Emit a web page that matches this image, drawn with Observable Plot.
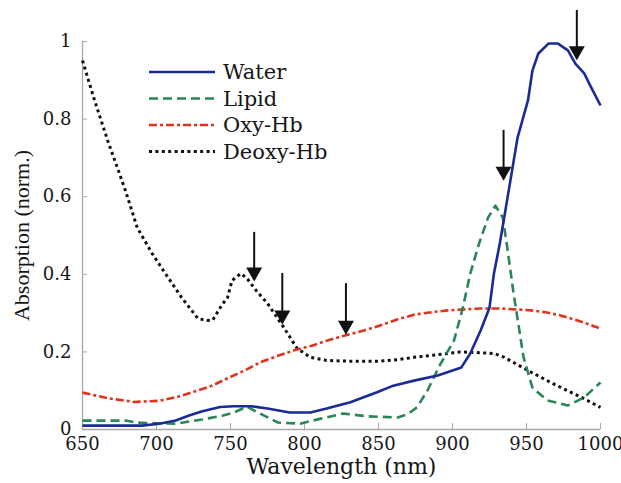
<!DOCTYPE html>
<html>
<head>
<meta charset="utf-8">
<script src="https://cdn.jsdelivr.net/npm/d3@7"></script>
<script src="https://cdn.jsdelivr.net/npm/@observablehq/plot@0.6"></script>
<style>
  html, body { margin: 0; padding: 0; background: #fff; }
  #chart { position: relative; width: 621px; height: 483px; overflow: hidden; }
  #legend { position: absolute; left: 0; top: 0; pointer-events: none; }
</style>
</head>
<body>
<div id="chart"></div>
<script>
// Absorption spectra (normalised) of the main tissue chromophores
const waterNm  = [650, 670, 690, 702, 713, 722, 731, 743, 752, 764, 775, 790, 804, 815, 831, 849, 860, 874, 890, 906, 912, 919, 925, 928, 932, 938, 944, 951, 954, 958, 965, 971, 978, 983, 989, 993, 1000];
const waterAbs = [0.01, 0.01, 0.01, 0.015, 0.023, 0.036, 0.047, 0.058, 0.06, 0.06, 0.054, 0.044, 0.044, 0.054, 0.07, 0.096, 0.113, 0.126, 0.139, 0.16, 0.196, 0.255, 0.314, 0.402, 0.48, 0.616, 0.753, 0.848, 0.925, 0.969, 0.995, 0.995, 0.977, 0.943, 0.918, 0.887, 0.835];

const lipidNm  = [650, 679, 686, 700, 713, 731, 745, 753, 761, 770, 782, 797, 811, 826, 843, 863, 870, 876, 883, 892, 901, 907, 912, 918, 924, 929, 934, 937, 941, 948, 954, 964, 978, 989, 1000];
const lipidAbs = [0.023, 0.023, 0.018, 0.016, 0.015, 0.026, 0.036, 0.045, 0.059, 0.041, 0.018, 0.015, 0.028, 0.041, 0.034, 0.031, 0.04, 0.057, 0.1, 0.17, 0.229, 0.314, 0.402, 0.48, 0.546, 0.577, 0.546, 0.469, 0.358, 0.186, 0.108, 0.075, 0.062, 0.083, 0.121];

const oxyNm  = [650, 668, 685, 702, 715, 725, 737, 748, 760, 770, 782, 793, 805, 816, 828, 840, 851, 863, 874, 887, 897, 910, 919, 932, 945, 953, 963, 973, 987, 1000];
const oxyAbs = [0.095, 0.08, 0.071, 0.074, 0.085, 0.097, 0.112, 0.132, 0.153, 0.173, 0.19, 0.204, 0.216, 0.23, 0.243, 0.255, 0.268, 0.284, 0.296, 0.303, 0.307, 0.31, 0.312, 0.312, 0.309, 0.307, 0.302, 0.294, 0.278, 0.26];

const deoxyNm  = [650, 658, 667, 679, 687, 697, 706, 717, 728, 734, 738, 744, 748, 751, 757, 761, 768, 775, 786, 795, 804, 815, 830, 851, 863, 874, 897, 905, 918, 928, 935, 951, 968, 987, 1000];
const deoxyAbs = [0.951, 0.85, 0.745, 0.616, 0.52, 0.454, 0.402, 0.34, 0.286, 0.281, 0.282, 0.32, 0.34, 0.384, 0.402, 0.39, 0.355, 0.325, 0.263, 0.209, 0.186, 0.178, 0.176, 0.176, 0.18, 0.186, 0.196, 0.2, 0.198, 0.196, 0.186, 0.152, 0.118, 0.083, 0.057];

const seriesNames  = ["Water", "Lipid", "Oxy-Hb", "Deoxy-Hb"];
const seriesColors = ["#1a2b98", "#2a8656", "#e2321c", "#111111"];
const seriesDash   = [null, "9,5", "8,3,3,3", "3,3.4"];

// Wavelengths picked out by arrows
const arrowNm  = [766, 785, 828, 934.5, 984];
const arrowTop = [0.508, 0.402, 0.376, 0.771, 1.08];
const arrowTip = [0.384, 0.273, 0.247, 0.644, 0.954];

const wavelengthTicks = [650, 700, 750, 800, 850, 900, 950, 1000];
const absTicks = [0, 0.2, 0.4, 0.6, 0.8, 1];

const seriesData = [
  [waterNm, waterAbs], [lipidNm, lipidAbs], [oxyNm, oxyAbs], [deoxyNm, deoxyAbs]
].map(([nm, ab], i) => nm.map((w, j) => ({series: seriesNames[i], nm: w, abs: ab[j]})));

const arrows = arrowNm.map((w, i) => ({nm: w, top: arrowTop[i], tip: arrowTip[i]}));

// filled triangle whose tip sits on the anchor point, pointing down
const arrowHead = {
  draw(ctx) {
    ctx.moveTo(0, 1);
    ctx.lineTo(-8, -13);
    ctx.lineTo(8, -13);
    ctx.closePath();
  }
};

const axisGray = "#a8a8a8";
const drawOrder = [3, 2, 1, 0];

const chart = Plot.plot({
  width: 621,
  height: 483,
  marginLeft: 82,
  marginRight: 21,
  marginTop: 41,
  marginBottom: 54,
  style: {fontFamily: "DejaVu Serif", fontSize: "18px", color: "#151515", background: "#fff"},
  x: {domain: [650, 1000]},
  y: {domain: [0, 1]},
  marks: [
    Plot.ruleY([0], {stroke: axisGray, strokeWidth: 1.3}),
    Plot.ruleX([650], {stroke: axisGray, strokeWidth: 1.3}),
    Plot.axisX({ticks: wavelengthTicks, tickSize: -6, tickPadding: 14, stroke: axisGray, label: null, tickFormat: d3.format("d")}),
    Plot.axisY({ticks: absTicks, tickSize: -5, tickPadding: 16, stroke: axisGray, label: null, tickFormat: d3.format("~g")}),
    ...drawOrder.map(i => Plot.line(seriesData[i], {
      x: "nm", y: "abs",
      stroke: seriesColors[i],
      strokeWidth: i === 3 ? 3 : 2.6,
      strokeDasharray: seriesDash[i],
      strokeLinecap: "butt",
      strokeLinejoin: "round"
    })),
    Plot.ruleX(arrows, {x: "nm", y1: "top", y2: "tip", stroke: "#111", strokeWidth: 2}),
    Plot.dot(arrows, {x: "nm", y: "tip", symbol: arrowHead, fill: "#111", stroke: "none", r: 8}),
    Plot.text(["Wavelength (nm)"], {frameAnchor: "bottom", dy: 29, lineAnchor: "top", fontSize: 22, fill: "#151515"}),
    Plot.text(["Absorption (norm.)"], {frameAnchor: "left", textAnchor: "middle", dx: -61, rotate: -90, fontSize: 22, fontFamily: "Liberation Serif", fill: "#151515"})
  ]
});

const root = document.getElementById("chart");
root.appendChild(chart);

// Legend drawn over the upper-left part of the plot
const legendX = 149, legendY = 72, rowGap = 26.5, lineLen = 66;
const legend = d3.create("svg").attr("id", "legend").attr("width", 621).attr("height", 483);
seriesNames.forEach((name, i) => {
  const y = legendY + i * rowGap;
  legend.append("line")
    .attr("x1", legendX).attr("x2", legendX + lineLen)
    .attr("y1", y).attr("y2", y)
    .attr("stroke", seriesColors[i])
    .attr("stroke-width", i === 3 ? 3 : 2.6)
    .attr("stroke-dasharray", seriesDash[i]);
  legend.append("text")
    .attr("x", legendX + lineLen + 8).attr("y", y + 7)
    .attr("font-family", "DejaVu Serif").attr("font-size", 21)
    .attr("fill", "#151515")
    .text(name);
});
root.appendChild(legend.node());
</script>
</body>
</html>
